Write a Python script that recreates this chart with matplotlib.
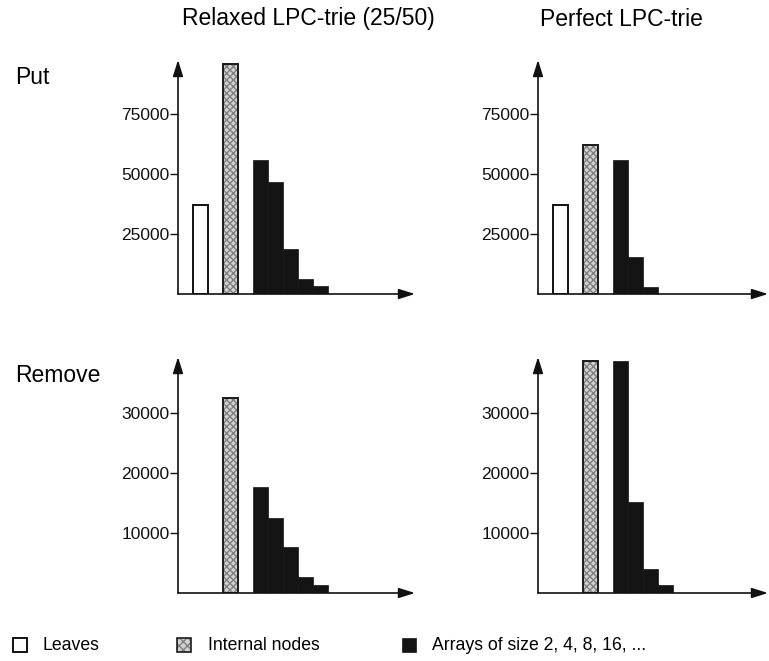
import matplotlib
matplotlib.use("Agg")
import matplotlib.pyplot as plt
from matplotlib.patches import Rectangle

plt.rcParams['font.family'] = ['Liberation Sans', 'DejaVu Sans']

# bar positions (left edges, in bar widths from the y axis)
leaf_pos = 1
internal_pos = 3
array_start = 5

# Put, relaxed LPC-trie (25/50)
put_relaxed_leaves = 37000
put_relaxed_internal = 96000
put_relaxed_arrays = [55800, 46700, 18700, 6300, 3300]

# Put, perfect LPC-trie
put_perfect_leaves = 37000
put_perfect_internal = 62000
put_perfect_arrays = [55800, 15400, 2900]

# Remove, relaxed LPC-trie (25/50)
remove_relaxed_leaves = 0
remove_relaxed_internal = 32500
remove_relaxed_arrays = [17700, 12500, 7700, 2700, 1300]

# Remove, perfect LPC-trie
remove_perfect_leaves = 0
remove_perfect_internal = 38700
remove_perfect_arrays = [38700, 15200, 4000, 1300]

put_ticks = [25000, 50000, 75000]
remove_ticks = [10000, 20000, 30000]

col_titles = ['Relaxed LPC-trie (25/50)', 'Perfect LPC-trie']
row_titles = ['Put', 'Remove']
legend_labels = ['Leaves', 'Internal nodes', 'Arrays of size 2, 4, 8, 16, ...']

W, H = 769, 661
fig = plt.figure(figsize=(W / 100, H / 100), dpi=100)


def px_axes(left, right, bottom, top):
    return fig.add_axes([left / W, 1 - bottom / H, (right - left) / W, (bottom - top) / H])


def draw_panel(ax, leaves, internal, arrays, ticks, xmax, ymax):
    ax.set_xlim(0, xmax)
    ax.set_ylim(0, ymax)
    if leaves > 0:
        ax.bar(leaf_pos, leaves, width=1, align='edge', color='white',
               edgecolor='#111111', linewidth=1.4)
    # stippled grey bar for internal nodes
    ax.bar(internal_pos, internal, width=1, align='edge', color='#d2d2d2',
           edgecolor='#808080', hatch='xxxxx', linewidth=0)
    ax.bar(internal_pos, internal, width=1, align='edge', fill=False,
           edgecolor='#1a1a1a', linewidth=1.4)
    xs = [array_start + i for i in range(len(arrays))]
    ax.bar(xs, arrays, width=1, align='edge', color='#141414',
           edgecolor='#141414', linewidth=0.5)
    for s in ax.spines.values():
        s.set_visible(False)
    ax.set_xticks([])
    ax.set_yticks(ticks)
    ax.set_yticklabels([str(t) for t in ticks])
    ax.tick_params(axis='y', direction='out', length=6, width=1, pad=0,
                   labelsize=12.5, colors='#111111')
    ap = dict(arrowstyle='-|>,head_length=0.7,head_width=0.22',
              color='#111111', lw=1.2, mutation_scale=14, shrinkA=0, shrinkB=0)
    ax.annotate('', xy=(1, 0), xytext=(0, 0), xycoords='axes fraction',
                textcoords='axes fraction', arrowprops=ap)
    ax.annotate('', xy=(0, 1), xytext=(0, 0), xycoords='axes fraction',
                textcoords='axes fraction', arrowprops=ap)


ax1 = px_axes(178, 415, 294, 60)
draw_panel(ax1, put_relaxed_leaves, put_relaxed_internal, put_relaxed_arrays,
           put_ticks, (415 - 178) / 15, 97500)
ax2 = px_axes(538, 768, 294, 60)
draw_panel(ax2, put_perfect_leaves, put_perfect_internal, put_perfect_arrays,
           put_ticks, (768 - 538) / 15, 97500)
ax3 = px_axes(178, 415, 593, 357)
draw_panel(ax3, remove_relaxed_leaves, remove_relaxed_internal, remove_relaxed_arrays,
           remove_ticks, (415 - 178) / 15, 39300)
ax4 = px_axes(538, 768, 593, 357)
draw_panel(ax4, remove_perfect_leaves, remove_perfect_internal, remove_perfect_arrays,
           remove_ticks, (768 - 538) / 15, 39300)

# column and row headings
fig.text(308 / W, 1 - 19 / H, col_titles[0], ha='center', va='center', fontsize=16.5)
fig.text(621 / W, 1 - 19 / H, col_titles[1], ha='center', va='center', fontsize=16.5)
fig.text(15 / W, 1 - 77 / H, row_titles[0], ha='left', va='center', fontsize=16.5)
fig.text(15 / W, 1 - 376 / H, row_titles[1], ha='left', va='center', fontsize=16.5)

# legend along the bottom
sq_y = 1 - 652 / H
sq_h = 14 / H
sq_w = 14 / W
fig.add_artist(Rectangle((13 / W, sq_y), sq_w, sq_h, transform=fig.transFigure,
                         facecolor='white', edgecolor='#111111', linewidth=1.4))
fig.add_artist(Rectangle((177 / W, sq_y), sq_w, sq_h, transform=fig.transFigure,
                         facecolor='#d2d2d2', edgecolor='#808080', hatch='xxxx', linewidth=0))
fig.add_artist(Rectangle((177 / W, sq_y), sq_w, sq_h, transform=fig.transFigure,
                         fill=False, edgecolor='#1a1a1a', linewidth=1.2))
fig.add_artist(Rectangle((402 / W, sq_y), sq_w, sq_h, transform=fig.transFigure,
                         facecolor='#141414', edgecolor='#141414', linewidth=0.5))
fig.text(43 / W, 1 - 645 / H, legend_labels[0], ha='left', va='center', fontsize=12.7)
fig.text(208 / W, 1 - 645 / H, legend_labels[1], ha='left', va='center', fontsize=12.7)
fig.text(432 / W, 1 - 645 / H, legend_labels[2], ha='left', va='center', fontsize=12.7)

fig.savefig('out.png', dpi=100)
